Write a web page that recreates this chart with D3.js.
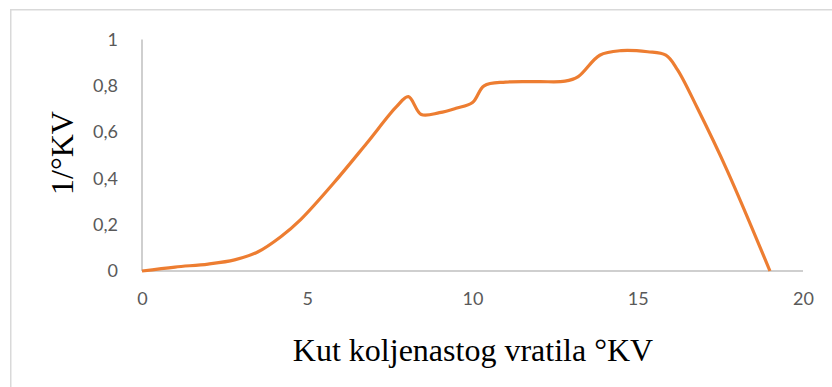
<!DOCTYPE html>
<html>
<head>
<meta charset="utf-8">
<script src="https://cdn.jsdelivr.net/npm/d3@7"></script>
<style>
  html, body { margin: 0; padding: 0; background: #fff; }
  svg { display: block; }
</style>
</head>
<body>
<svg id="chart" width="832" height="387"></svg>
<script>
// Crank angle (°KV) and the measured curve
const angle = [0, 1, 2, 2.8, 3.5, 4.2, 4.8, 5.8, 6.8, 7.7, 8.06, 8.45, 9, 9.5, 10, 10.35, 11, 12, 12.8, 13.2, 13.85, 14.5, 15.3, 15.85, 16.2, 16.8, 17.7, 19];
const value = [0, 0.017, 0.03, 0.048, 0.082, 0.148, 0.222, 0.38, 0.552, 0.71, 0.753, 0.676, 0.684, 0.703, 0.728, 0.8, 0.816, 0.818, 0.82, 0.84, 0.932, 0.952, 0.947, 0.932, 0.87, 0.705, 0.436, 0];

const xTicks = [0, 5, 10, 15, 20];
const yTicks = [0, 0.2, 0.4, 0.6, 0.8, 1];
const xTitle = "Kut koljenastog vratila °KV";
const yTitle = "1/°KV";

const svg = d3.select("#chart");
const W = 832, H = 387;

// outer chart frame
svg.append("path")
  .attr("d", `M10.75,${H} V9.75 H${W}`)
  .attr("fill", "none")
  .attr("stroke", "#d9d9d9")
  .attr("stroke-width", 1.5);

const x = d3.scaleLinear().domain([0, 20]).range([142, 803]);
const y = d3.scaleLinear().domain([0, 1]).range([271, 39.5]);

const fmt = v => String(+v.toFixed(1)).replace(".", ",");

// axis lines
svg.append("line")
  .attr("x1", x(0)).attr("x2", x(0))
  .attr("y1", y(0)).attr("y2", y(1))
  .attr("stroke", "#bfbfbf").attr("stroke-width", 1.5);
svg.append("line")
  .attr("x1", x(0)).attr("x2", x(20))
  .attr("y1", y(0)).attr("y2", y(0))
  .attr("stroke", "#bfbfbf").attr("stroke-width", 1.5);

const tickFont = "Lato, 'Open Sans', sans-serif";

// y tick labels
const yAxis = d3.axisLeft(y).tickValues(yTicks).tickSize(0).tickPadding(24).tickFormat(fmt);
const gy = svg.append("g").attr("transform", `translate(${x(0)},0)`).call(yAxis);
gy.select(".domain").remove();
gy.selectAll("text")
  .attr("fill", "#595959")
  .style("font-family", tickFont)
  .style("font-size", "18px");

// x tick labels
const xAxis = d3.axisBottom(x).tickValues(xTicks).tickSize(0).tickPadding(21).tickFormat(d3.format("d"));
const gx = svg.append("g").attr("transform", `translate(0,${y(0)})`).call(xAxis);
gx.select(".domain").remove();
gx.selectAll("text")
  .attr("fill", "#595959")
  .style("font-family", tickFont)
  .style("font-size", "18px");

// data curve
const pts = angle.map((a, i) => [a, value[i]]);
svg.append("path")
  .datum(pts)
  .attr("fill", "none")
  .attr("stroke", "#ED7D31")
  .attr("stroke-width", 3.2)
  .attr("stroke-linejoin", "round")
  .attr("d", d3.line().x(d => x(d[0])).y(d => y(d[1])).curve(d3.curveCatmullRom.alpha(0.5)));

// axis titles
svg.append("text")
  .attr("x", 473).attr("y", 361)
  .attr("text-anchor", "middle")
  .style("font-family", "'Liberation Serif', 'Times New Roman', serif")
  .style("font-size", "32px")
  .attr("fill", "#000")
  .text(xTitle);

svg.append("text")
  .attr("transform", "translate(73,153) rotate(-90)")
  .attr("text-anchor", "middle")
  .style("font-family", "'Liberation Serif', 'Times New Roman', serif")
  .style("font-size", "32px")
  .attr("fill", "#000")
  .text(yTitle);
</script>
</body>
</html>
